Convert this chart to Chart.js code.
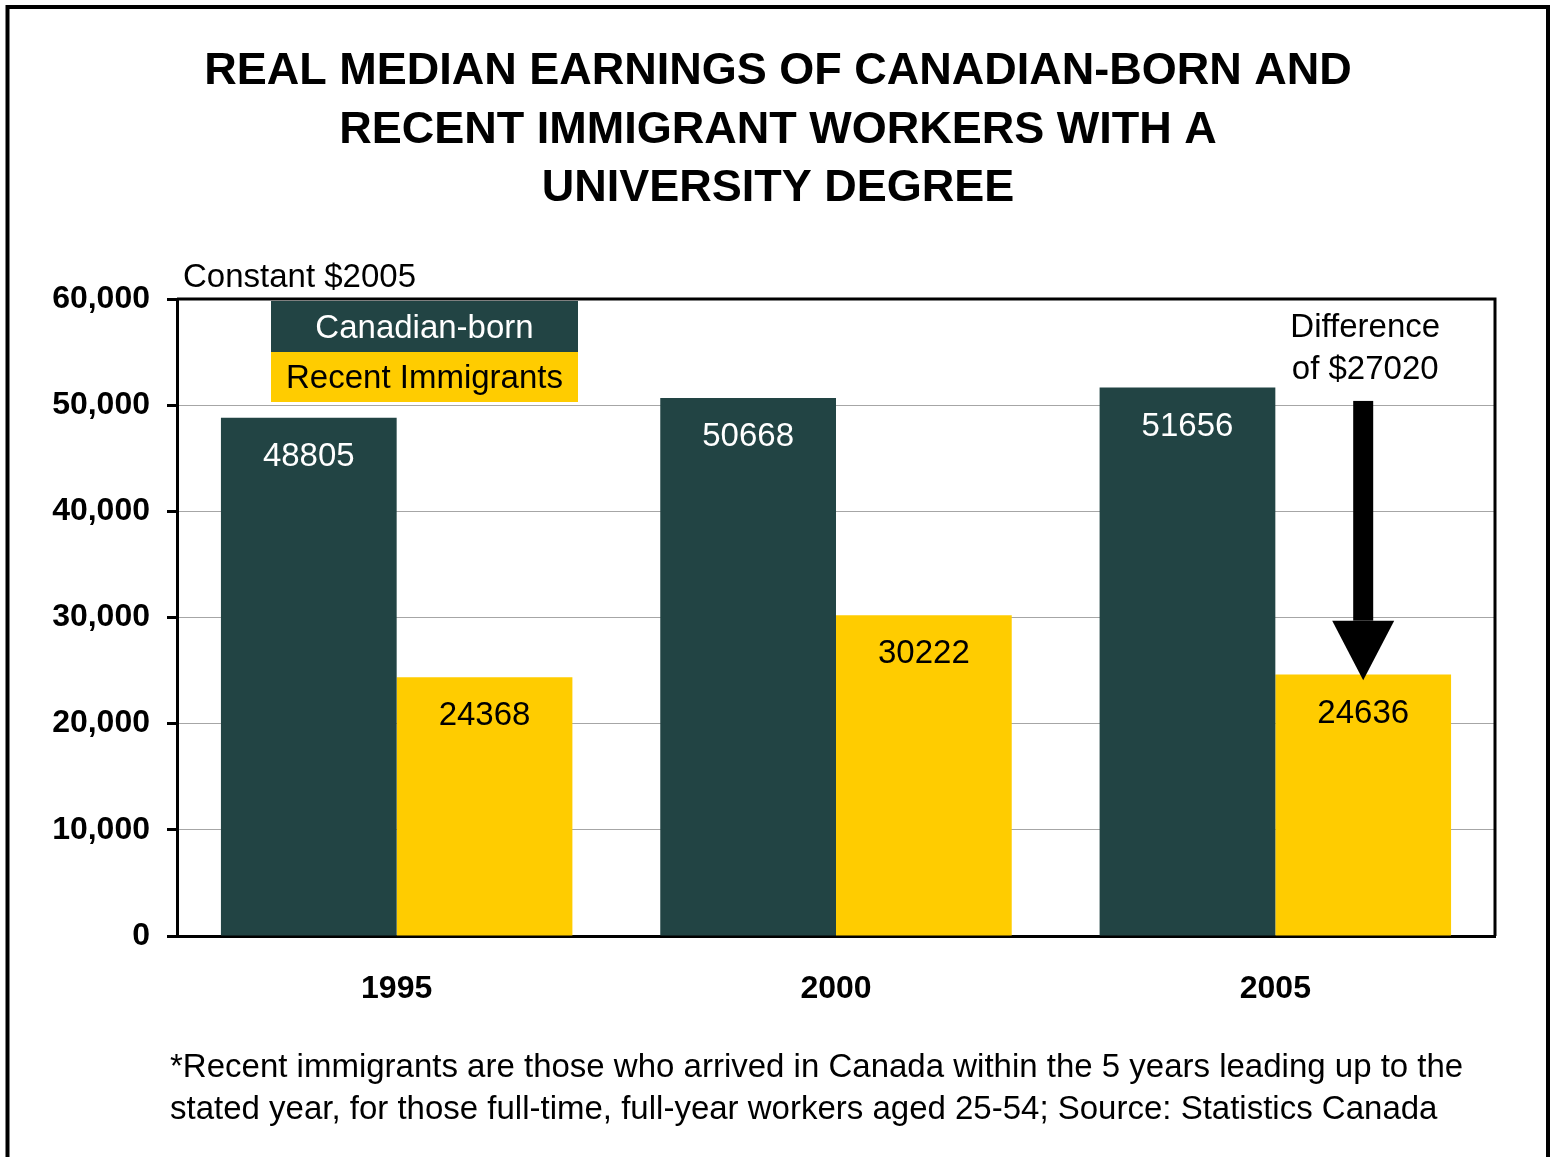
<!DOCTYPE html>
<html>
<head>
<meta charset="utf-8">
<script src="https://cdn.jsdelivr.net/npm/chart.js@4"></script>
<style>
  html, body { margin: 0; padding: 0; background: #fff; }
  #wrap { width: 1550px; height: 1157px; position: relative; }
</style>
</head>
<body>
<div id="wrap"><canvas id="chart"></canvas></div>
<script>
const years = ["1995", "2000", "2005"];
const canadianBorn = [48805, 50668, 51656];
const recentImmigrants = [24368, 30222, 24636];
const yTicks = [0, 10000, 20000, 30000, 40000, 50000, 60000];

const titleLines = [
  "REAL MEDIAN EARNINGS OF CANADIAN-BORN AND",
  "RECENT IMMIGRANT WORKERS WITH A",
  "UNIVERSITY DEGREE",
];
const unitLabel = "Constant $2005";
const diffLines = ["Difference", "of $27020"];
const footLines = [
  "*Recent immigrants are those who arrived in Canada within the 5 years leading up to the",
  "stated year, for those full-time, full-year workers aged 25-54; Source: Statistics Canada",
];

// arrow annotation, in data units
const arrowTop = 50400;
const arrowHeadBase = 29700;
const arrowTip = 24100;

const DARK = "#224444";
const GOLD = "#FFCC00";
const FONT = "'Liberation Sans', Arial, sans-serif";

const decor = {
  id: "decor",
  afterDatasetsDraw(chart) {
    const ctx = chart.ctx;
    const area = chart.chartArea;
    const y = chart.scales.y;

    // value labels inside bars
    ctx.save();
    ctx.font = "33px " + FONT;
    ctx.textAlign = "center";
    ctx.textBaseline = "middle";
    chart.data.datasets.forEach((ds, di) => {
      chart.getDatasetMeta(di).data.forEach((bar, i) => {
        ctx.fillStyle = di === 0 ? "#fff" : "#000";
        ctx.fillText(String(ds.data[i]), bar.x, bar.y + 39);
      });
    });

    // plot border (top/right)
    ctx.strokeStyle = "#000";
    ctx.lineWidth = 3;
    ctx.beginPath();
    ctx.moveTo(area.left, area.top);
    ctx.lineTo(area.right, area.top);
    ctx.lineTo(area.right, area.bottom);
    ctx.stroke();

    // legend
    const lx = 271, lw = 307;
    ctx.fillStyle = DARK;
    ctx.fillRect(lx, area.top + 2, lw, 51);
    ctx.fillStyle = GOLD;
    ctx.fillRect(lx, area.top + 53, lw, 50);
    ctx.font = "33px " + FONT;
    ctx.fillStyle = "#fff";
    ctx.fillText("Canadian-born", lx + lw / 2, area.top + 30);
    ctx.fillStyle = "#000";
    ctx.fillText("Recent Immigrants", lx + lw / 2, area.top + 80);

    // arrow
    const bar = chart.getDatasetMeta(1).data[2];
    const ax = bar.x;
    const yTop = y.getPixelForValue(arrowTop);
    const yBase = y.getPixelForValue(arrowHeadBase);
    const yTip = y.getPixelForValue(arrowTip);
    ctx.fillStyle = "#000";
    ctx.fillRect(ax - 10, yTop, 20, yBase - yTop);
    ctx.beginPath();
    ctx.moveTo(ax - 31, yBase);
    ctx.lineTo(ax + 31, yBase);
    ctx.lineTo(ax, yTip);
    ctx.closePath();
    ctx.fill();

    ctx.fillText(diffLines[0], ax + 2, 328);
    ctx.fillText(diffLines[1], ax + 2, 370);
    ctx.restore();
  },
  afterDraw(chart) {
    const ctx = chart.ctx;
    ctx.save();
    // outer frame
    ctx.strokeStyle = "#000";
    ctx.lineWidth = 4;
    ctx.beginPath();
    ctx.moveTo(7.5, 1160);
    ctx.lineTo(7.5, 7);
    ctx.lineTo(1548, 7);
    ctx.lineTo(1548, 1160);
    ctx.stroke();

    ctx.fillStyle = "#000";
    ctx.textAlign = "center";
    ctx.textBaseline = "middle";
    ctx.font = "bold 45px " + FONT;
    titleLines.forEach((t, i) => ctx.fillText(t, 778, 72 + i * 58.5));

    ctx.textAlign = "left";
    ctx.font = "33px " + FONT;
    ctx.fillText(unitLabel, 183, 278);
    footLines.forEach((t, i) => ctx.fillText(t, 170, 1068 + i * 42));
    ctx.restore();
  },
};

new Chart(document.getElementById("chart"), {
  type: "bar",
  data: {
    labels: years,
    datasets: [
      { label: "Canadian-born", data: canadianBorn, backgroundColor: DARK },
      { label: "Recent Immigrants", data: recentImmigrants, backgroundColor: GOLD },
    ],
  },
  options: {
    responsive: true,
    maintainAspectRatio: false,
    animation: false,
    datasets: { bar: { categoryPercentage: 0.8, barPercentage: 1.0 } },
    layout: { padding: { top: 299, right: 55, left: 0, bottom: 0 } },
    plugins: { legend: { display: false }, title: { display: false }, tooltip: { enabled: false } },
    scales: {
      x: {
        afterFit(s) { s.height = 221; },
        grid: { display: false, drawTicks: false },
        border: { color: "#000", width: 3 },
        ticks: { color: "#000", padding: 34, font: { family: FONT, size: 32, weight: "bold" } },
      },
      y: {
        min: yTicks[0],
        max: yTicks[yTicks.length - 1],
        afterFit(s) { s.width = 177; },
        afterBuildTicks(s) { s.ticks = yTicks.map(v => ({ value: v })); },
        grid: { color: "#a6a6a6", lineWidth: 1, tickColor: "#000", tickWidth: 3, tickLength: 10 },
        border: { color: "#000", width: 3 },
        ticks: {
          color: "#000",
          padding: 17,
          font: { family: FONT, size: 32, weight: "bold" },
          callback: v => v.toLocaleString("en-US"),
        },
      },
    },
  },
  plugins: [decor],
});
</script>
</body>
</html>
